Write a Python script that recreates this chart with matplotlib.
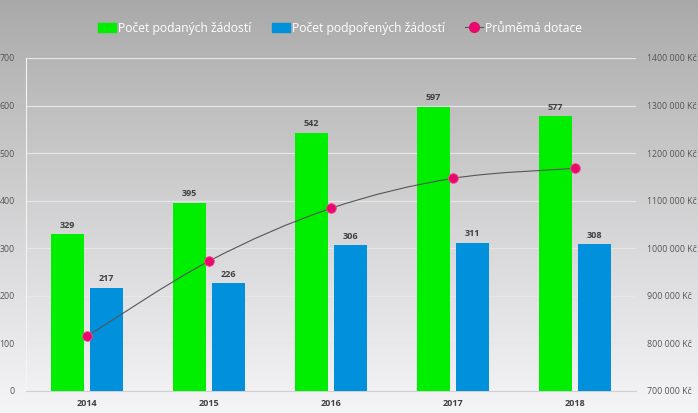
import numpy as np
import matplotlib.pyplot as plt
from matplotlib.path import Path
from matplotlib.patches import PathPatch
from matplotlib.lines import Line2D
from matplotlib.patches import Patch

years = ['2014', '2015', '2016', '2017', '2018']
podane = [329, 395, 542, 597, 577]
podporene = [217, 226, 306, 311, 308]
dotace = [815000, 973000, 1084000, 1147000, 1168000]

green = '#00ee00'
blue = '#0090dc'
pink = '#e8086e'

plt.rcParams['font.family'] = ['Open Sans', 'DejaVu Sans']

fig = plt.figure(figsize=(6.98, 4.13), dpi=100)

# gradient background
bg = fig.add_axes([0, 0, 1, 1], zorder=0)
grad = np.linspace(0, 1, 256).reshape(-1, 1)
top = np.array([0.66, 0.66, 0.66])
bot = np.array([0.96, 0.96, 0.97])
img = top + (bot - top) * grad[:, :, None] ** 0.9
bg.imshow(img, aspect='auto', extent=[0, 1, 0, 1], origin='upper')
bg.axis('off')

ax = fig.add_axes([0.0372, 0.0533, 0.874, 0.8063], zorder=1)
ax.patch.set_alpha(0)
ax2 = ax.twinx()
ax2.set_zorder(2)

x = np.arange(len(years))
w = 0.27
off = 0.16
ax.bar(x - off, podane, w, color=green, zorder=3)
ax.bar(x + off, podporene, w, color=blue, zorder=3)
for xi, v in zip(x, podane):
    ax.text(xi - off, v + 10, str(v), ha='center', va='bottom', fontsize=6.5,
            fontweight='bold', color='#404040')
for xi, v in zip(x, podporene):
    ax.text(xi + off, v + 10, str(v), ha='center', va='bottom', fontsize=6.5,
            fontweight='bold', color='#404040')

ax.set_xlim(-0.5, 4.5)
ax.set_ylim(0, 700)
ax.set_yticks(range(0, 701, 100))
ax.yaxis.grid(True, color='#e6e6e6', linewidth=0.9, zorder=0)
ax.set_axisbelow(True)
ax.set_xticks(x)
ax.set_xticklabels(years, fontsize=6.5, fontweight='bold', color='#404040')
ax.tick_params(axis='both', length=0)
ax.tick_params(axis='y', labelsize=6.3, labelcolor='#555555', pad=8)
ax.tick_params(axis='x', pad=6)
for s in ['top', 'right']:
    ax.spines[s].set_visible(False)
ax.spines['left'].set_color('#f4f4f4')
ax.spines['bottom'].set_color('#d0d0d0')

# smooth line (Catmull-Rom as bezier)
pts = np.column_stack([x, dotace]).astype(float)
verts = [tuple(pts[0])]
codes = [Path.MOVETO]
for i in range(len(pts) - 1):
    p0 = pts[i - 1] if i > 0 else pts[i]
    p1 = pts[i]
    p2 = pts[i + 1]
    p3 = pts[i + 2] if i + 2 < len(pts) else pts[i + 1]
    c1 = p1 + (p2 - p0) / 6
    c2 = p2 - (p3 - p1) / 6
    verts += [tuple(c1), tuple(c2), tuple(p2)]
    codes += [Path.CURVE4] * 3
ax2.add_patch(PathPatch(Path(verts, codes), fill=False, edgecolor='#555555',
                        linewidth=0.8, zorder=4))
ax2.plot(x, dotace, 'o', color=pink, markersize=7, markeredgecolor='#f05090',
         markeredgewidth=0.6, zorder=5)
ax2.set_ylim(700000, 1400000)
ax2.set_yticks(range(700000, 1400001, 100000))
ax2.set_yticklabels(['{:,} Kč'.format(v).replace(',', ' ').replace('1 ', '1', 1)
                     for v in range(700000, 1400001, 100000)])
ax2.tick_params(axis='y', length=0, labelsize=6.3, labelcolor='#555555', pad=8)
for s in ax2.spines.values():
    s.set_visible(False)

handles = [Patch(color=green), Patch(color=blue),
           Line2D([], [], color='#555555', lw=0.8, marker='o', markersize=7,
                  markerfacecolor=pink, markeredgecolor=pink)]
labels = ['Počet podaných žádostí', 'Počet podpořených žádostí', 'Průměmá dotace']
fig.legend(handles, labels, loc='center', bbox_to_anchor=(0.487, 0.932),
           ncol=3, frameon=False, fontsize=8.7, labelcolor='white',
           handlelength=1.5, handleheight=0.75, handletextpad=0.15,
           columnspacing=1.7)

fig.savefig('out.png', dpi=100)
